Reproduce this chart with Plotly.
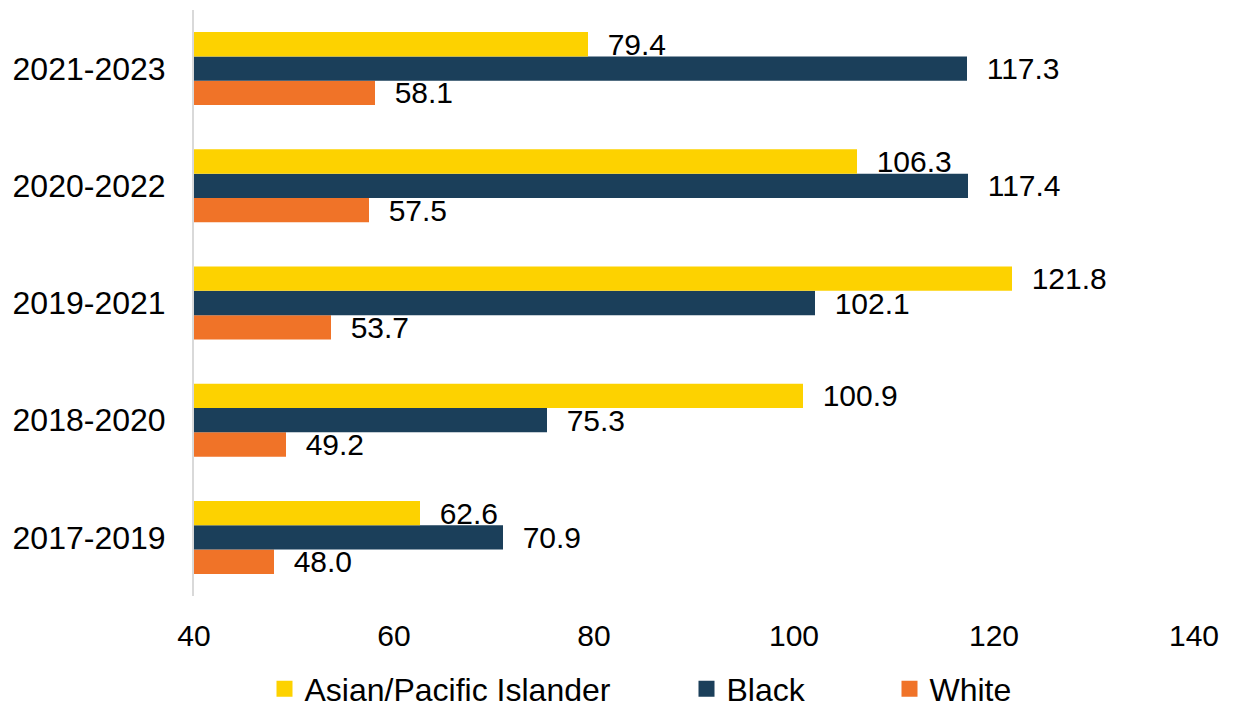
import plotly.graph_objects as go

# Three-year periods, bottom to top on the category axis
periods = ["2017-2019", "2018-2020", "2019-2021", "2020-2022", "2021-2023"]

asian_pi = [62.6, 100.9, 121.8, 106.3, 79.4]
black = [70.9, 75.3, 102.1, 117.4, 117.3]
white = [48.0, 49.2, 53.7, 57.5, 58.1]

x_ticks = [40, 60, 80, 100, 120, 140]

FONT = "Liberation Sans, Arial, sans-serif"
YELLOW = "#FDD200"
NAVY = "#1B3F5A"
ORANGE = "#F07328"

# Traces added bottom-up so that each group reads yellow / navy / orange from the top
series = [
    ("White", white, ORANGE, "legend3"),
    ("Black", black, NAVY, "legend2"),
    ("Asian/Pacific Islander", asian_pi, YELLOW, "legend"),
]

fig = go.Figure()
for name, vals, color, leg in series:
    fig.add_trace(go.Bar(
        y=periods, x=vals, orientation="h", name=name,
        marker=dict(color=color, line=dict(width=0)),
        texttemplate="\u00a0\u00a0%{x:.1f}",
        textposition="outside",
        constraintext="none",
        cliponaxis=False,
        textfont=dict(family=FONT, size=30, color="#000000"),
        showlegend=False,
        hoverinfo="skip",
    ))

# Legend entries with square swatches, each in its own legend box
for name, vals, color, leg in series:
    fig.add_trace(go.Scatter(
        x=[None], y=[None], mode="markers", name=name,
        marker=dict(symbol="square", size=17, color=color),
        legend=leg, showlegend=True,
    ))

leg_common = dict(
    orientation="h", xref="container", yref="container",
    xanchor="left", yanchor="middle", y=1 - 689 / 709,
    font=dict(family=FONT, size=32, color="#000000"),
    bgcolor="rgba(0,0,0,0)", borderwidth=0,
    itemsizing="trace",
)

fig.update_layout(
    width=1233, height=709,
    margin=dict(l=194, r=39, t=10, b=113),
    paper_bgcolor="white", plot_bgcolor="white",
    barmode="group", bargap=0.377, bargroupgap=0,
    xaxis=dict(
        range=[40, 140], tickvals=x_ticks, showgrid=False, zeroline=False,
        showline=False, ticks="", ticklabelstandoff=19,
        tickfont=dict(family=FONT, size=30, color="#000000"),
    ),
    yaxis=dict(
        categoryorder="array", categoryarray=periods,
        showgrid=False, zeroline=False, showline=True,
        linecolor="#D9D9D9", linewidth=2, ticks="", ticklabelstandoff=20,
        tickfont=dict(family=FONT, size=32, color="#000000"),
    ),
    legend=dict(leg_common, x=(284.5 - 20) / 1233),
    legend2=dict(leg_common, x=(706.5 - 20) / 1233),
    legend3=dict(leg_common, x=(909.5 - 20) / 1233),
)

fig.write_html("out.html")
